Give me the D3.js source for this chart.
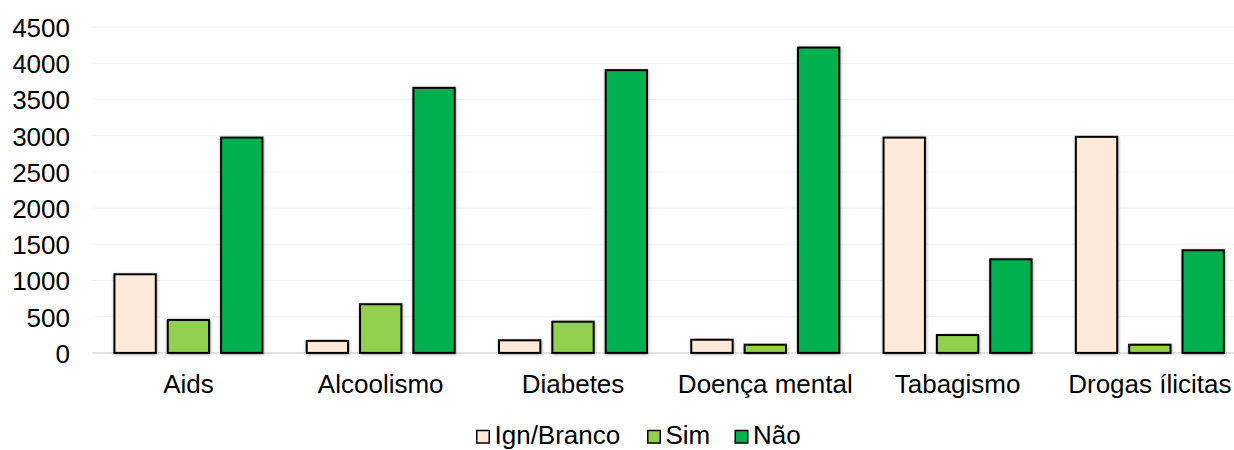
<!DOCTYPE html>
<html>
<head>
<meta charset="utf-8">
<script src="https://cdn.jsdelivr.net/npm/d3@7"></script>
<style>
  html, body { margin: 0; padding: 0; background: #ffffff; }
  svg { display: block; }
  text { font-family: "Liberation Sans", Arial, sans-serif; fill: #000; }
</style>
</head>
<body>
<svg id="chart" width="1234" height="450"></svg>
<script>
// Categories and series values
const categories = ["Aids", "Alcoolismo", "Diabetes", "Doença mental", "Tabagismo", "Drogas ílicitas"];
const seriesNames = ["Ign/Branco", "Sim", "Não"];
const ignBranco = [1086, 166, 174, 182, 2974, 2984];
const sim = [455, 672, 431, 113, 247, 113];
const nao = [2974, 3661, 3905, 4218, 1293, 1418];
const yTicks = [0, 500, 1000, 1500, 2000, 2500, 3000, 3500, 4000, 4500];

const seriesValues = [ignBranco, sim, nao];
const colors = ["#FDE9D9", "#92D050", "#00B050"];
const FONT = 26;

const svg = d3.select("#chart");

// Drop shadow for the bars
const defs = svg.append("defs");
const f = defs.append("filter").attr("id", "shadow")
  .attr("x", "-20%").attr("y", "-20%").attr("width", "140%").attr("height", "140%");
f.append("feDropShadow").attr("dx", 0.5).attr("dy", 0.8).attr("stdDeviation", 1.6)
  .attr("flood-color", "#000").attr("flood-opacity", 0.35);

const plotLeft = 92.3, plotRight = 1246, plotBottom = 352.9, plotTop = 27.1;

const x0 = d3.scaleBand().domain(categories).range([plotLeft, plotRight]).padding(0);
const groupWidth = 150;
const x1 = d3.scaleBand().domain(seriesNames)
  .range([(x0.bandwidth() - groupWidth) / 2, (x0.bandwidth() + groupWidth) / 2])
  .paddingInner(0.1875).paddingOuter(0);
const y = d3.scaleLinear().domain([0, 4500]).range([plotBottom, plotTop]);

// Gridlines
svg.append("g")
  .selectAll("line")
  .data(yTicks.filter(d => d > 0))
  .join("line")
  .attr("x1", plotLeft).attr("x2", 1234)
  .attr("y1", d => y(d)).attr("y2", d => y(d))
  .attr("stroke", "#f3f3f3").attr("stroke-width", 1);

// Y axis labels
const yAxis = d3.axisLeft(y).tickValues(yTicks).tickFormat(d3.format("d")).tickSize(0).tickPadding(0);
const yg = svg.append("g").attr("transform", `translate(70,0)`).call(yAxis);
yg.select(".domain").remove();
yg.selectAll("text")
  .attr("font-size", FONT)
  .attr("font-family", "Liberation Sans, Arial, sans-serif")
  .attr("fill", "#000")
  .attr("dy", "0.36em");

// Baseline
svg.append("line")
  .attr("x1", plotLeft).attr("x2", 1234)
  .attr("y1", y(0)).attr("y2", y(0))
  .attr("stroke", "#d9d9d9").attr("stroke-width", 1.5);

// Bars
const groups = svg.append("g")
  .selectAll("g")
  .data(categories)
  .join("g")
  .attr("transform", d => `translate(${x0(d)},0)`);

groups.selectAll("rect")
  .data((c, i) => seriesNames.map((s, k) => ({ s, k, v: seriesValues[k][i] })))
  .join("rect")
  .attr("x", d => x1(d.s) + 1)
  .attr("width", x1.bandwidth() - 2)
  .attr("y", d => y(d.v))
  .attr("height", d => y(0) - y(d.v))
  .attr("fill", d => colors[d.k])
  .attr("stroke", "#000")
  .attr("stroke-width", 2)
  .attr("filter", "url(#shadow)");

// X axis labels
const xAxis = d3.axisBottom(x0).tickSize(0).tickPadding(0);
const xg = svg.append("g").call(xAxis);
xg.select(".domain").remove();
xg.selectAll("text")
  .attr("font-size", FONT)
  .attr("font-family", "Liberation Sans, Arial, sans-serif")
  .attr("fill", "#000")
  .attr("y", 393)
  .attr("dy", 0);

// Legend
const legendItems = [
  { name: seriesNames[0], color: colors[0], x: 476 },
  { name: seriesNames[1], color: colors[1], x: 647 },
  { name: seriesNames[2], color: colors[2], x: 734.5 }
];
const lg = svg.append("g").selectAll("g").data(legendItems).join("g")
  .attr("transform", d => `translate(${d.x},0)`);
lg.append("rect")
  .attr("x", 0.75).attr("y", 430.5)
  .attr("width", 12.5).attr("height", 12.5)
  .attr("fill", d => d.color)
  .attr("stroke", "#000").attr("stroke-width", 1.5);
lg.append("text")
  .attr("x", 18.5).attr("y", 444)
  .attr("font-size", FONT)
  .text(d => d.name);
</script>
</body>
</html>
